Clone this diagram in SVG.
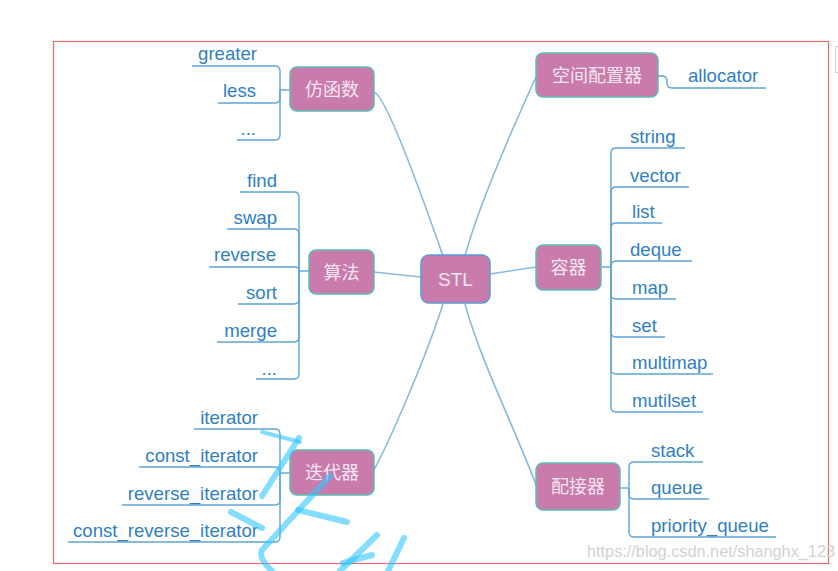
<svg xmlns="http://www.w3.org/2000/svg" width="838" height="571" viewBox="0 0 838 571">
<defs>
<style>
.node rect{fill:#c97bab;stroke:#5cbdb3;stroke-width:1.5}
.node text{font-family:"Noto Sans CJK SC","Liberation Sans",sans-serif;font-size:18px;fill:#f6e6f1;text-anchor:middle}
.main{fill:none;stroke:#86bbdf;stroke-width:1.6}
.leaf{fill:none;stroke:#5ea5d8;stroke-width:1.4}
.lt{font-family:"Liberation Sans",Arial,sans-serif;font-size:18.6px;fill:#2f7fc2}
.l{text-anchor:end}
.wm{fill:none;stroke:#2fc6ff;stroke-opacity:0.6;stroke-width:6;stroke-linecap:round;stroke-linejoin:round}
</style>
</defs>
<rect width="838" height="571" fill="#ffffff"/>
<rect x="53.5" y="41.5" width="775" height="522" fill="none" stroke="#e96a6a" stroke-width="1.2"/>
<rect x="835.5" y="46.5" width="10" height="26" fill="#fff" stroke="#cfcfcf"/>

<g id="connectors">
<path class="main" d="M374 92 C386 96 420 190 443 256"/>
<path class="main" d="M465 256 C480 200 520 112 536 77"/>
<path class="main" d="M443 304 C425 360 390 440 374 470"/>
<path class="main" d="M465 304 C480 360 520 440 536 485"/>
<path class="main" d="M374 272 L421 277"/>
<path class="main" d="M490 274 L536 267"/>

<path class="leaf" d="M290 90 H280"/>
<path class="leaf" d="M280 90 V71 Q280 66 275 66 H192"/>
<path class="leaf" d="M280 90 V98 Q280 103 275 103 H218"/>
<path class="leaf" d="M280 90 V135 Q280 140 275 140 H237"/>

<path class="leaf" d="M658 76 H662 Q667 76 667 81 V83 Q667 88 672 88 H766"/>

<path class="leaf" d="M309 271 H299"/>
<path class="leaf" d="M299 271 V197 Q299 192 294 192 H240"/>
<path class="leaf" d="M299 271 V234 Q299 229 294 229 H227"/>
<path class="leaf" d="M299 271 Q299 267 295 267 H209"/>
<path class="leaf" d="M299 271 V299 Q299 304 294 304 H238"/>
<path class="leaf" d="M299 271 V337 Q299 342 294 342 H217"/>
<path class="leaf" d="M299 271 V374 Q299 379 294 379 H256"/>

<path class="leaf" d="M601 267 H611"/>
<path class="leaf" d="M611 267 V153 Q611 148 616 148 H685"/>
<path class="leaf" d="M611 267 V192 Q611 187 616 187 H689"/>
<path class="leaf" d="M611 267 V228 Q611 223 616 223 H662"/>
<path class="leaf" d="M611 267 Q611 261 616 261 H692"/>
<path class="leaf" d="M611 267 V294 Q611 299 616 299 H676"/>
<path class="leaf" d="M611 267 V332 Q611 337 616 337 H665"/>
<path class="leaf" d="M611 267 V369 Q611 374 616 374 H713"/>
<path class="leaf" d="M611 267 V407 Q611 412 616 412 H703"/>

<path class="leaf" d="M290 473 H280"/>
<path class="leaf" d="M280 473 V434 Q280 429 275 429 H194"/>
<path class="leaf" d="M280 473 Q280 467 275 467 H139"/>
<path class="leaf" d="M280 473 V500 Q280 505 275 505 H122"/>
<path class="leaf" d="M280 473 V537 Q280 542 275 542 H68"/>

<path class="leaf" d="M620 488 H629"/>
<path class="leaf" d="M629 488 V467 Q629 462 634 462 H703"/>
<path class="leaf" d="M629 488 V494 Q629 499 634 499 H709"/>
<path class="leaf" d="M629 488 V532 Q629 537 634 537 H776"/>
</g>

<g id="STL" class="node"><rect x="421" y="255" width="69" height="48" rx="8" style="stroke:#5b9bd5"/><text x="455.5" y="285.5" style="font-family:'Liberation Sans',Arial,sans-serif;font-size:19px">STL</text></g>
<g id="functor" class="node"><rect x="290" y="67" width="84" height="44" rx="7"/><text x="332" y="95.5">仿函数</text></g>
<g id="allocator-node" class="node"><rect x="536" y="53" width="122" height="44" rx="7"/><text x="597" y="81.5">空间配置器</text></g>
<g id="algorithm" class="node"><rect x="309" y="250" width="65" height="44" rx="7"/><text x="341.5" y="278.5">算法</text></g>
<g id="container" class="node"><rect x="536" y="245" width="65" height="45" rx="7"/><text x="568.5" y="274">容器</text></g>
<g id="iterator-node" class="node"><rect x="290" y="450" width="84" height="45" rx="7"/><text x="332" y="479">迭代器</text></g>
<g id="adapter" class="node"><rect x="536" y="463" width="84" height="47" rx="7"/><text x="578" y="493">配接器</text></g>

<g id="leaves">
<text class="lt l" x="257" y="60">greater</text>
<text class="lt l" x="256" y="97">less</text>
<text class="lt l" x="256" y="135">...</text>
<text class="lt" x="688" y="82">allocator</text>
<text class="lt l" x="277" y="187">find</text>
<text class="lt l" x="277" y="224">swap</text>
<text class="lt l" x="276" y="261">reverse</text>
<text class="lt l" x="277" y="299">sort</text>
<text class="lt l" x="277" y="337">merge</text>
<text class="lt l" x="277" y="375">...</text>
<text class="lt" x="630" y="143">string</text>
<text class="lt" x="630" y="182">vector</text>
<text class="lt" x="632" y="218">list</text>
<text class="lt" x="630" y="256">deque</text>
<text class="lt" x="632" y="294">map</text>
<text class="lt" x="632" y="332">set</text>
<text class="lt" x="632" y="369">multimap</text>
<text class="lt" x="632" y="407">mutilset</text>
<text class="lt l" x="258" y="424">iterator</text>
<text class="lt l" x="258" y="462">const_iterator</text>
<text class="lt l" x="258" y="500">reverse_iterator</text>
<text class="lt l" x="258" y="537">const_reverse_iterator</text>
<text class="lt" x="651" y="457">stack</text>
<text class="lt" x="651" y="494">queue</text>
<text class="lt" x="651" y="532">priority_queue</text>
</g>

<text x="587" y="557" style="font-family:'Liberation Sans',Arial,sans-serif;font-size:16.3px;fill:#d2d2d2">https://blog.csdn.net/shanghx_123</text>

<g id="scribble">
<path class="wm" d="M299 438 L262 496"/>
<path class="wm" d="M231 512 L262 528"/>
<path class="wm" d="M298 510 L347 522"/>
<path class="wm" d="M330 476 L262 550 Q258 558 272 571"/>
<path class="wm" d="M377 535 L340 571"/>
<path class="wm" d="M404 538 L388 571"/>
<path class="wm" d="M343 563 L372 555"/>
<path class="wm" d="M262 432 L300 442" style="stroke-width:4"/>
</g>
</svg>
